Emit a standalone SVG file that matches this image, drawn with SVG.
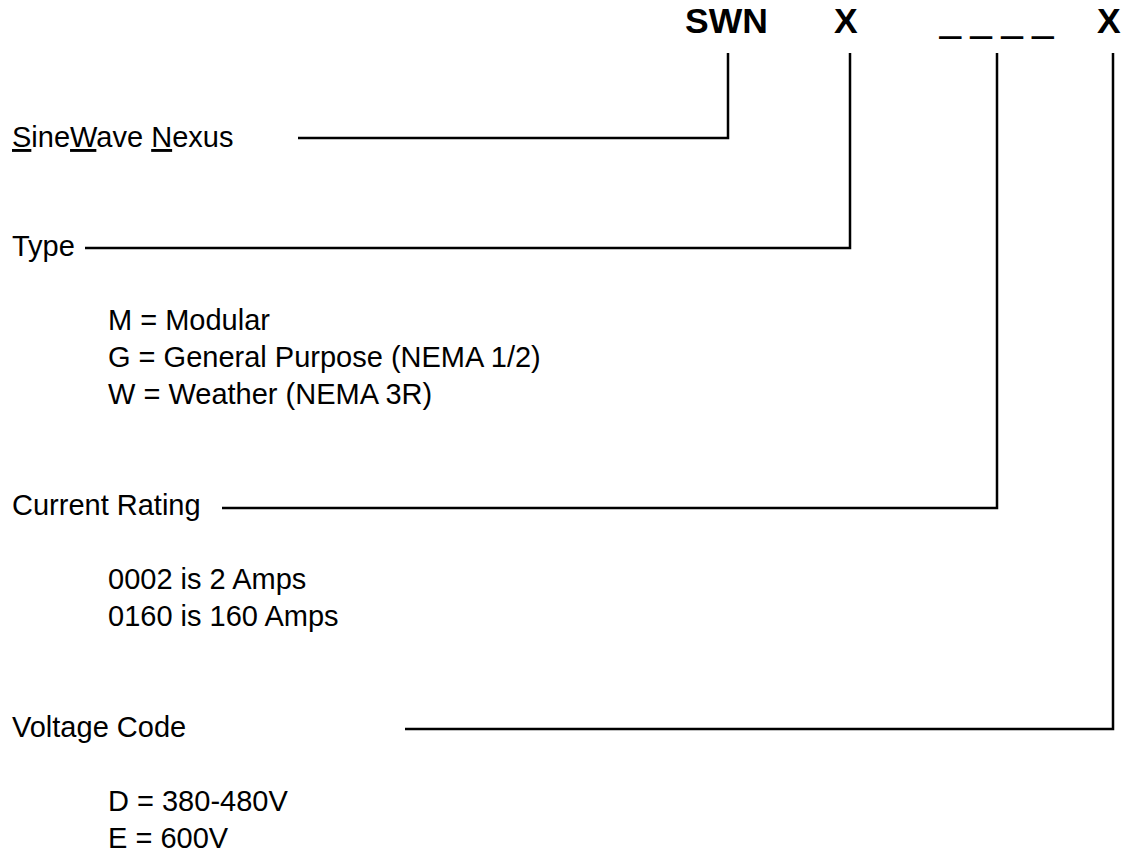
<svg xmlns="http://www.w3.org/2000/svg" width="1126" height="858" viewBox="0 0 1126 858">
<style>
.t{font-family:"Liberation Sans",Arial,sans-serif;font-size:29px;fill:#000}
.h{font-family:"Liberation Sans",Arial,sans-serif;font-size:35.5px;font-weight:bold;fill:#000}
.d{font-family:"Liberation Sans",Arial,sans-serif;font-size:37px;font-weight:bold;fill:#000;stroke:#000;stroke-width:1.2}
.c{fill:none;stroke:#000;stroke-width:2.5}
</style>
<rect width="1126" height="858" fill="#fff"/>
<g id="header">
<text class="h" x="685" y="33">SWN</text>
<text class="h" x="834" y="33">X</text>
<text class="d" x="940" y="33.5">_ _ _ _</text>
<text class="h" x="1097" y="33">X</text>
</g>
<g id="node-sinewave"><text class="t" x="12" y="147"><tspan text-decoration="underline">S</tspan>ine<tspan text-decoration="underline">W</tspan>ave <tspan text-decoration="underline">N</tspan>exus</text></g>
<g id="node-type">
<text class="t" x="12" y="256">Type</text>
<text class="t" x="108" y="330">M = Modular</text>
<text class="t" x="108" y="367">G = General Purpose (NEMA 1/2)</text>
<text class="t" x="108" y="404">W = Weather (NEMA 3R)</text>
</g>
<g id="node-current">
<text class="t" x="12" y="515">Current Rating</text>
<text class="t" x="108" y="589">0002 is 2 Amps</text>
<text class="t" x="108" y="626">0160 is 160 Amps</text>
</g>
<g id="node-voltage">
<text class="t" x="12" y="737">Voltage Code</text>
<text class="t" x="108" y="811">D = 380-480V</text>
<text class="t" x="108" y="848">E = 600V</text>
</g>
<g id="connectors">
<polyline class="c" points="728,53 728,138 298,138"/>
<polyline class="c" points="850,53 850,248 85,248"/>
<polyline class="c" points="997,53 997,508 222,508"/>
<polyline class="c" points="1113,53 1113,729 405,729"/>
</g>
</svg>
